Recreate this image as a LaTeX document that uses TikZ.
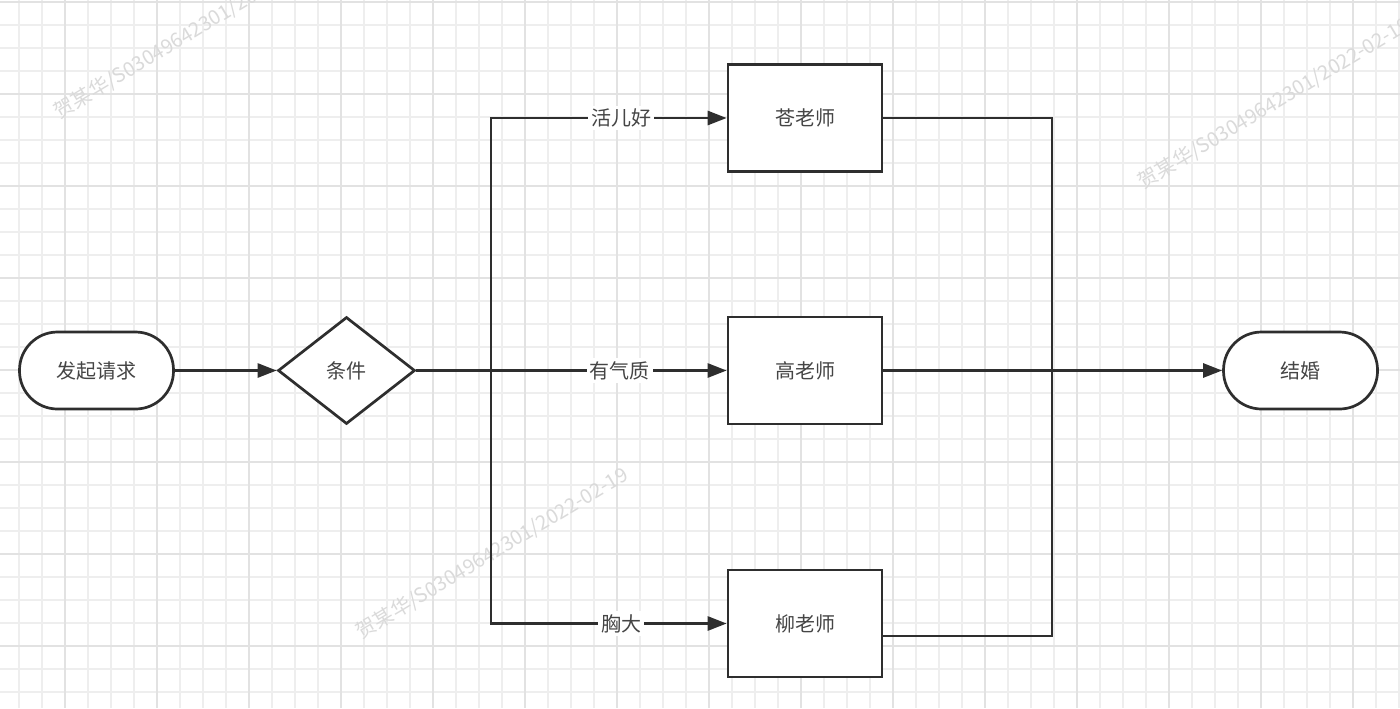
\documentclass[tikz,border=0pt]{standalone}
\usepackage{fontspec}
\newfontfamily\cjk{Noto Sans CJK SC}
\usetikzlibrary{shapes.geometric,arrows.meta}
\definecolor{minorgrid}{HTML}{EEEEEE}
\definecolor{majorgrid}{HTML}{E2E2E2}
\definecolor{linec}{HTML}{2E2E2E}
\definecolor{textc}{HTML}{454545}
\definecolor{wmark}{HTML}{DADADA}
\tikzset{
  every node/.style={font=\cjk\fontsize{10}{12}\selectfont, text=textc},
  shapeline/.style={draw=linec, line width=1.35pt, fill=white},
  terminal/.style={shapeline, rectangle, rounded corners=19pt, minimum width=77pt, minimum height=38.5pt, inner sep=0pt},
  decision/.style={shapeline, diamond, minimum width=68.5pt, minimum height=53.5pt, inner sep=0pt},
  procbox/.style={shapeline, rectangle, minimum width=77pt, minimum height=53.5pt, inner sep=0pt},
  conn/.style={draw=linec, line width=1.35pt},
  arr/.style={conn, -{Triangle[length=9.5pt,width=7pt]}},
  lbl/.style={fill=white, inner sep=1.5pt},
  wm/.style={font=\cjk\fontsize{10}{12}\selectfont, text=wmark, rotate=31, anchor=west, inner sep=0pt},
}
\begin{document}
\begin{tikzpicture}[x=0.5pt, y=-0.5pt]
  % background and grid
  \fill[white] (0,0) rectangle (1400,708);
  \useasboundingbox (0,0) rectangle (1400,708);
  \foreach \k in {0,...,60} { \draw[minorgrid, line width=0.6pt] ({19+23*\k},0) -- ({19+23*\k},708); }
  \foreach \k in {0,...,30} { \draw[minorgrid, line width=0.6pt] (0,{2+23*\k}) -- (1400,{2+23*\k}); }
  \foreach \k in {0,...,14} { \draw[majorgrid, line width=0.7pt] ({65+92*\k},0) -- ({65+92*\k},708); }
  \foreach \k in {0,...,7} { \draw[majorgrid, line width=0.7pt] (0,{2+92*\k}) -- (1400,{2+92*\k}); }
  % watermarks
  \begin{scope}
    \clip (0,0) rectangle (1400,708);
    \node[wm] (wm1) at (56,114) {贺某华/S03049642301/2022-02-19};
    \node[wm] (wm2) at (1140,184) {贺某华/S03049642301/2022-02-19};
    \node[wm] (wm3) at (358,634) {贺某华/S03049642301/2022-02-19};
  \end{scope}
  % nodes
  \node[terminal] (start) at (96.5,370.5) {发起请求};
  \node[decision] (cond) at (346.5,370.5) {条件};
  \node[procbox] (b1) at (805,118) {苍老师};
  \node[procbox] (b2) at (805,370.5) {高老师};
  \node[procbox] (b3) at (805,623.5) {柳老师};
  \node[terminal] (end) at (1300.5,370.5) {结婚};
  \coordinate (br) at (491,370.5);
  \coordinate (mg) at (1052,370.5);
  \coordinate (b3out) at ([yshift=-6.25pt]b3.east);
  % connectors
  \draw[arr] (start) -- (cond);
  \draw[conn] (cond.east) -- (br);
  \draw[arr] (br) |- node[lbl, pos=0.776] {活儿好} (b1.west);
  \draw[arr] (cond.east) -- node[lbl, pos=0.655] {有气质} (b2.west);
  \draw[arr] (br) |- node[lbl, pos=0.776] {胸大} (b3.west);
  \draw[conn] (b1.east) -| (mg);
  \draw[conn] (b3out) -| (mg);
  \draw[arr] (b2.east) -- (end.west);
\end{tikzpicture}
\end{document}
